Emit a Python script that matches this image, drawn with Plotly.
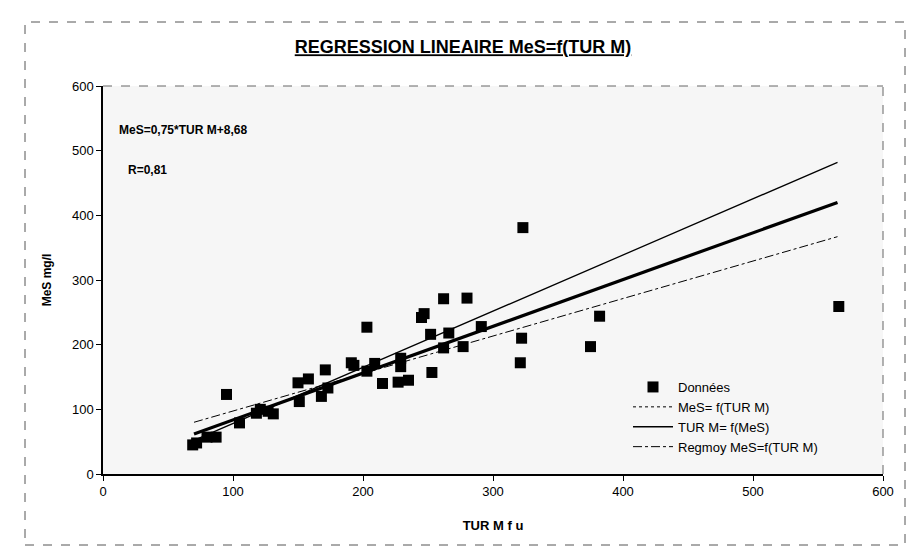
import plotly.graph_objects as go

# Data points (TUR M f u, MeS mg/l)
tur = [69, 72, 80, 87, 95, 105, 118, 121, 127, 131, 150, 151, 158, 168, 171, 173,
       191, 193, 203, 203, 209, 215, 227, 229, 229, 235, 245, 247, 252, 253, 262,
       262, 266, 277, 280, 291, 321, 322, 323, 375, 382, 566]
mes = [45, 48, 57, 57, 123, 79, 94, 100, 97, 93, 141, 112, 147, 120, 161, 133,
       172, 168, 227, 159, 171, 140, 142, 179, 166, 145, 242, 248, 216, 157, 271,
       195, 218, 197, 272, 228, 172, 210, 381, 197, 244, 259]

# Regression lines (end points)
line_x = [70, 565]
mes_f_tur = [62, 420]       # MeS = f(TUR M)
tur_f_mes = [52, 482]       # TUR M = f(MeS)
regmoy = [80, 367]          # Regmoy MeS=f(TUR M)

FONT = "Liberation Sans, Arial, sans-serif"

fig = go.Figure()

fig.add_trace(go.Scatter(x=tur, y=mes, mode="markers", name="Données",
                         marker=dict(symbol="square", size=11, color="black")))
# thick line (drawn) + legend sample dotted
fig.add_trace(go.Scatter(x=line_x, y=mes_f_tur, mode="lines", showlegend=False,
                         line=dict(color="black", width=3.2)))
fig.add_trace(go.Scatter(x=[None], y=[None], mode="lines", name="MeS= f(TUR M)",
                         line=dict(color="black", width=1, dash="dot")))
fig.add_trace(go.Scatter(x=line_x, y=tur_f_mes, mode="lines", name="TUR M= f(MeS)",
                         line=dict(color="black", width=1.3)))
fig.add_trace(go.Scatter(x=line_x, y=regmoy, mode="lines", name="Regmoy MeS=f(TUR M)",
                         line=dict(color="black", width=1, dash="dashdot")))

fig.update_layout(
    width=918, height=560,
    margin=dict(l=103, r=35, t=86, b=86),
    paper_bgcolor="white",
    plot_bgcolor="#f6f6f6",
    font=dict(family=FONT, color="black", size=13),
    title=dict(text="<b><u>REGRESSION LINEAIRE MeS=f(TUR M)</u></b>",
               x=463/918, xanchor="center", y=1 - 47/560, yanchor="middle",
               font=dict(size=18, family=FONT)),
    xaxis=dict(range=[0, 600], dtick=100, showgrid=False, zeroline=False,
               showline=True, linecolor="black", linewidth=1.5,
               ticks="outside", ticklen=5, tickcolor="black",
               tickfont=dict(size=13),
               title=dict(text="<b>TUR M f u</b>", font=dict(size=13), standoff=23)),
    yaxis=dict(range=[0, 600], dtick=100, showgrid=False, zeroline=False,
               showline=True, linecolor="black", linewidth=1.5,
               ticks="outside", ticklen=5, tickcolor="black",
               tickfont=dict(size=13),
               title=dict(text="<b>MeS mg/l</b>", font=dict(size=12), standoff=18)),
    legend=dict(x=(628 - 103) / 780, y=(474 - 372) / 388, xanchor="left", yanchor="top",
                bgcolor="rgba(0,0,0,0)", font=dict(size=13), tracegroupgap=0,
                itemwidth=40),
    showlegend=True,
)

# plot area top/right dashed border
fig.add_shape(type="line", xref="paper", yref="paper", x0=0, x1=1, y0=1, y1=1,
              line=dict(color="#666", width=1, dash="dash"))
fig.add_shape(type="line", xref="paper", yref="paper", x0=1, x1=1, y0=0, y1=1,
              line=dict(color="#666", width=1, dash="dash"))
# outer chart frame
fig.add_shape(type="rect", xref="paper", yref="paper",
              x0=(25 - 103) / 780, x1=(905 - 103) / 780,
              y0=(474 - 545) / 388, y1=(474 - 22) / 388,
              line=dict(color="#555", width=1, dash="dash"))

fig.add_annotation(text="<b>MeS=0,75*TUR M+8,68</b>", xref="paper", yref="paper",
                   x=(117 - 103) / 780, y=(474 - 130) / 388, xanchor="left",
                   yanchor="middle", showarrow=False, font=dict(size=12))
fig.add_annotation(text="<b>R=0,81</b>", xref="paper", yref="paper",
                   x=(126 - 103) / 780, y=(474 - 170) / 388, xanchor="left",
                   yanchor="middle", showarrow=False, font=dict(size=12))

fig.write_html("out.html")
